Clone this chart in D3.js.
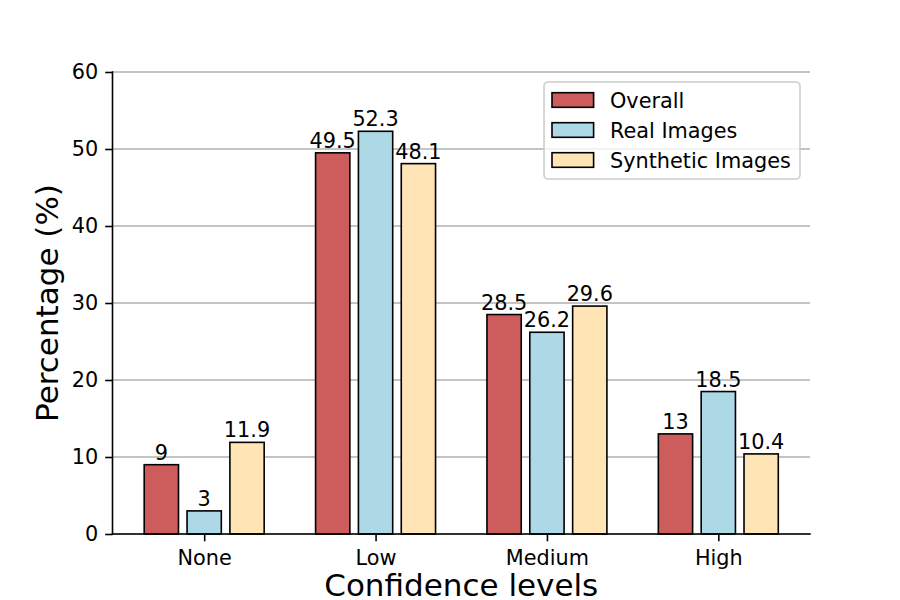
<!DOCTYPE html>
<html>
<head>
<meta charset="utf-8">
<script src="https://cdn.jsdelivr.net/npm/d3@7"></script>
<style>
  body { margin: 0; background: #fff; }
  svg text { font-family: "DejaVu Sans", sans-serif; fill: #000; }
</style>
</head>
<body>
<svg id="chart" width="900" height="600"></svg>
<script>
// chart data
var categories = ["None", "Low", "Medium", "High"];
var seriesNames = ["Overall", "Real Images", "Synthetic Images"];
var overall = [9, 49.5, 28.5, 13];
var realImages = [3, 52.3, 26.2, 18.5];
var syntheticImages = [11.9, 48.1, 29.6, 10.4];
var yTicks = [0, 10, 20, 30, 40, 50, 60];

var seriesValues = [overall, realImages, syntheticImages];
var colors = ["#CD5C5C", "#ADD8E6", "#FFE4B5"];

var svg = d3.select("#chart");
var W = 900, H = 600;
var plotLeft = 0.125 * W, plotRight = 0.9 * W, plotTop = 0.12 * H, plotBottom = 0.89 * H;

var barW = 0.2, step = 0.25;
// matplotlib-like 5% margins around bars
var lo = -step - barW / 2, hi = categories.length - 1 + step + barW / 2;
var pad = (hi - lo) * 0.05;

var x = d3.scaleLinear().domain([lo - pad, hi + pad]).range([plotLeft, plotRight]);
var y = d3.scaleLinear().domain([0, 60]).range([plotBottom, plotTop]);

var fs = 20.8;

// grid
svg.append("g")
  .selectAll("line")
  .data(yTicks)
  .enter().append("line")
  .attr("x1", plotLeft).attr("x2", plotRight)
  .attr("y1", function(d){ return y(d); })
  .attr("y2", function(d){ return y(d); })
  .attr("stroke", "#b0b0b0")
  .attr("stroke-width", 1.6);

// bars
seriesValues.forEach(function(vals, s){
  var g = svg.append("g");
  g.selectAll("rect")
    .data(vals)
    .enter().append("rect")
    .attr("x", function(d, i){ return x(i + (s - 1) * step - barW / 2); })
    .attr("width", x(barW) - x(0))
    .attr("y", function(d){ return y(d); })
    .attr("height", function(d){ return y(0) - y(d); })
    .attr("fill", colors[s])
    .attr("stroke", "#000")
    .attr("stroke-width", 1.6);

  g.selectAll("text")
    .data(vals)
    .enter().append("text")
    .attr("x", function(d, i){ return x(i + (s - 1) * step); })
    .attr("y", function(d){ return y(d) - 5; })
    .attr("text-anchor", "middle")
    .style("font-size", fs + "px")
    .text(function(d){ return d; });
});

// axes
var yAxis = d3.axisLeft(y).tickValues(yTicks).tickSize(7.3).tickPadding(7);
var xAxis = d3.axisBottom(x)
  .tickValues(d3.range(categories.length))
  .tickFormat(function(d){ return categories[d]; })
  .tickSize(7.3).tickPadding(9);

var gy = svg.append("g").attr("transform", "translate(" + plotLeft + ",0)").call(yAxis);
var gx = svg.append("g").attr("transform", "translate(0," + plotBottom + ")").call(xAxis);

[gx, gy].forEach(function(g){
  g.select(".domain").remove();
  g.selectAll(".tick line").attr("stroke", "#000").attr("stroke-width", 1.6);
  g.selectAll(".tick text").style("font-size", fs + "px").attr("fill", "#000")
    .style("font-family", "DejaVu Sans, sans-serif");
});

// spines (left and bottom only)
svg.append("line").attr("x1", plotLeft).attr("x2", plotLeft).attr("y1", plotTop).attr("y2", plotBottom)
  .attr("stroke", "#000").attr("stroke-width", 1.6).attr("stroke-linecap", "square");
svg.append("line").attr("x1", plotLeft).attr("x2", plotRight).attr("y1", plotBottom).attr("y2", plotBottom)
  .attr("stroke", "#000").attr("stroke-width", 1.6).attr("stroke-linecap", "square");

// axis labels
svg.append("text")
  .attr("x", (plotLeft + plotRight) / 2).attr("y", 596)
  .attr("text-anchor", "middle")
  .style("font-size", "31px")
  .text("Confidence levels");

svg.append("text")
  .attr("transform", "translate(58," + (plotTop + plotBottom) / 2 + ") rotate(-90)")
  .attr("text-anchor", "middle")
  .style("font-size", "31px")
  .text("Percentage (%)");

// legend
var lg = svg.append("g");
var lx = 544, ly = 82, lw = 256, lh = 97;
lg.append("rect")
  .attr("x", lx).attr("y", ly).attr("width", lw).attr("height", lh)
  .attr("rx", 4).attr("ry", 4)
  .attr("fill", "#fff").attr("fill-opacity", 0.8)
  .attr("stroke", "#cccccc").attr("stroke-width", 1.6);

seriesNames.forEach(function(name, i){
  var cy = 100 + i * 30;
  lg.append("rect")
    .attr("x", 552).attr("y", cy - 7.3)
    .attr("width", 41.6).attr("height", 14.6)
    .attr("fill", colors[i]).attr("stroke", "#000").attr("stroke-width", 1.6);
  lg.append("text")
    .attr("x", 610).attr("y", cy + 7.5)
    .style("font-size", fs + "px")
    .text(name);
});
</script>
</body>
</html>
